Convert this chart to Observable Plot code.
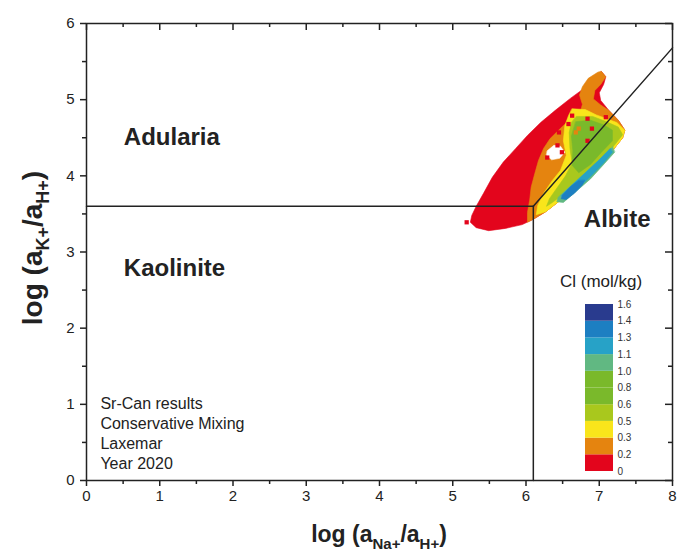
<!DOCTYPE html>
<html>
<head>
<meta charset="utf-8">
<script src="https://cdn.jsdelivr.net/npm/d3@7"></script>
<script src="https://cdn.jsdelivr.net/npm/@observablehq/plot@0.6"></script>
<style>
  html, body { margin: 0; padding: 0; background: #fff; }
  #chart { position: relative; width: 677px; height: 552px; font-family: "Liberation Sans", Arial, Helvetica, sans-serif; }
  #legend { position: absolute; left: 585px; top: 300px; }
  #legend-title { position: absolute; left: 560px; top: 272px; font-size: 17px; line-height: 20px; color: #222; white-space: nowrap; }
</style>
</head>
<body>
<div id="chart">
  <div id="legend-title">Cl (mol/kg)</div>
  <div id="legend"></div>
</div>
<script>
// Axis ticks
const xTicks = [0, 1, 2, 3, 4, 5, 6, 7, 8];
const xMinor = [0.5, 1.5, 2.5, 3.5, 4.5, 5.5, 6.5, 7.5];
const yTicks = [0, 1, 2, 3, 4, 5, 6];
const yMinor = [0.5, 1.5, 2.5, 3.5, 4.5, 5.5];

// Chloride classes (mol/kg) and their colours, lowest first
const clBreaks = ["0", "0.2", "0.3", "0.5", "0.6", "0.8", "1.0", "1.1", "1.3", "1.4", "1.6"];
const clColors = ["#e3051c", "#e5840f", "#f9e51b", "#a9c81d", "#7ab92b", "#7ab92b", "#61b882", "#27a2c7", "#1d7fc2", "#293b8e"];

// Stability-field boundaries [log(aNa+/aH+), log(aK+/aH+)]
const kaoliniteAdularia = [[0, 3.6], [6.1, 3.6]];
const kaoliniteAlbite = [[6.1, 0], [6.1, 3.6]];
const adulariaAlbite = [[6.1, 3.6], [8, 5.68]];

// Mixed-water samples, outlined by chloride class (each zone drawn over the previous)
const zoneCl0 = [[7.03,5.37],[7.09,5.30],[7.06,5.20],[7.00,5.09],[7.02,4.99],[7.13,4.86],[7.26,4.73],[7.35,4.60],[7.32,4.50],[7.18,4.33],[7.02,4.15],[6.74,3.90],[6.47,3.68],[6.27,3.53],[6.10,3.43],[5.95,3.36],[5.72,3.31],[5.49,3.28],[5.32,3.32],[5.24,3.39],[5.26,3.48],[5.32,3.60],[5.42,3.77],[5.54,3.98],[5.69,4.18],[5.86,4.36],[6.02,4.53],[6.20,4.70],[6.40,4.86],[6.61,5.02],[6.81,5.16],[6.94,5.28]];
const zoneCl02 = [[7.03,5.37],[7.09,5.30],[7.02,5.20],[6.94,5.12],[6.92,5.01],[7.02,4.93],[7.13,4.86],[7.26,4.73],[7.35,4.60],[7.32,4.50],[7.18,4.33],[7.02,4.15],[6.74,3.90],[6.47,3.68],[6.27,3.53],[6.10,3.43],[6.02,3.39],[6.02,3.52],[6.05,3.68],[6.07,3.85],[6.12,4.03],[6.17,4.20],[6.24,4.36],[6.33,4.49],[6.51,4.66],[6.74,4.83],[6.77,4.94],[6.73,5.06],[6.77,5.17],[6.85,5.28],[6.98,5.36]];
const zoneCl03 = [[6.63,4.88],[6.81,4.87],[6.96,4.80],[7.10,4.75],[7.24,4.70],[7.35,4.60],[7.32,4.50],[7.18,4.33],[7.02,4.15],[6.74,3.90],[6.47,3.68],[6.27,3.53],[6.14,3.49],[6.16,3.61],[6.24,3.77],[6.36,3.94],[6.47,4.07],[6.55,4.27],[6.51,4.46],[6.53,4.66],[6.58,4.79]];
const zoneCl05 = [[6.69,4.78],[6.91,4.78],[7.10,4.71],[7.26,4.64],[7.32,4.54],[7.18,4.37],[6.99,4.18],[6.74,3.95],[6.54,3.78],[6.36,3.65],[6.28,3.60],[6.32,3.70],[6.43,3.85],[6.54,4.00],[6.63,4.17],[6.60,4.36],[6.59,4.57],[6.62,4.70]];
const zoneCl06 = [[6.68,4.71],[6.88,4.73],[7.06,4.67],[7.18,4.60],[7.18,4.46],[7.03,4.31],[6.88,4.15],[6.72,4.04],[6.63,4.14],[6.64,4.33],[6.62,4.52]];
const zoneCl10 = [[7.18,4.38],[7.02,4.23],[6.81,4.04],[6.61,3.87],[6.44,3.72],[6.42,3.66],[6.51,3.65],[6.69,3.80],[6.88,3.96],[7.07,4.16],[7.21,4.31]];
const zoneCl11 = [[7.15,4.36],[6.99,4.20],[6.81,4.04],[6.63,3.88],[6.48,3.74],[6.53,3.69],[6.69,3.82],[6.88,3.99],[7.06,4.17],[7.18,4.31]];
const zoneCl13 = [[6.72,3.94],[6.61,3.86],[6.50,3.75],[6.48,3.70],[6.55,3.69],[6.66,3.77],[6.77,3.88],[6.80,3.94]];
const noSamples = [[6.29,4.33],[6.38,4.40],[6.47,4.39],[6.53,4.31],[6.46,4.23],[6.35,4.21],[6.28,4.27]];

// Isolated samples
const freshSpots = [[6.63,4.79],[6.84,4.75],[6.58,4.68],[6.45,4.57],[6.84,4.46],[6.49,4.31],[6.43,4.40],[6.29,4.24],[6.90,4.62],[7.09,4.77],[5.19,3.39]];
const brackishSpots = [[6.72,4.62],[6.68,4.57]];

const regionNames = ["Adularia", "Kaolinite", "Albite"];
const noteLines = ["Sr-Can results", "Conservative Mixing", "Laxemar", "Year 2020"];

const zones = [zoneCl0, zoneCl02, zoneCl03, zoneCl05, zoneCl06, zoneCl10, zoneCl11, zoneCl13];
const zoneClass = [0, 1, 2, 3, 4, 6, 7, 8];

const font = '"Liberation Sans", Arial, Helvetica, sans-serif';
const ink = "#222";

// plot frame in pixels
const W = 677, H = 552, mL = 86, mR = 5, mT = 23, mB = 72;
const innerW = W - mL - mR, innerH = H - mT - mB;

const zoneMarks = zones.map((z, k) => Plot.line(z, {
  x: d => d[0], y: d => d[1], curve: "linear-closed",
  fill: clColors[zoneClass[k]], stroke: clColors[zoneClass[k]], strokeWidth: 0.6
}));

const boundary = pts => Plot.line(pts, {x: d => d[0], y: d => d[1], stroke: ink, strokeWidth: 1.5});

const chart = Plot.plot({
  width: W,
  height: H,
  marginLeft: mL,
  marginRight: mR,
  marginTop: mT,
  marginBottom: mB,
  style: {fontFamily: font, fontSize: "15px", color: ink, background: "#fff"},
  x: {domain: [0, 8], label: null},
  y: {domain: [0, 6], label: null},
  marks: [
    ...zoneMarks,
    Plot.line(noSamples, {x: d => d[0], y: d => d[1], curve: "linear-closed", fill: "#fff", stroke: "#fff", strokeWidth: 0.5}),
    Plot.dot(freshSpots, {x: d => d[0], y: d => d[1], symbol: "square", r: 2.4, fill: clColors[0], stroke: null}),
    Plot.dot(brackishSpots, {x: d => d[0], y: d => d[1], symbol: "square", r: 2.4, fill: clColors[1], stroke: null}),
    boundary(kaoliniteAdularia),
    boundary(kaoliniteAlbite),
    boundary(adulariaAlbite),
    Plot.text([regionNames[0]], {x: 0.51, y: 4.51, textAnchor: "start", fontSize: 24, fontWeight: "bold", fill: ink}),
    Plot.text([regionNames[1]], {x: 0.51, y: 2.78, textAnchor: "start", fontSize: 24, fontWeight: "bold", fill: ink}),
    Plot.text([regionNames[2]], {x: 6.79, y: 3.43, textAnchor: "start", fontSize: 24, fontWeight: "bold", fill: ink}),
    Plot.text([noteLines.join("\n")], {x: 0.19, y: 0.63, textAnchor: "start", lineAnchor: "middle", lineHeight: 1.25, fontSize: 16, fill: ink}),
    Plot.frame({stroke: ink, strokeWidth: 1.5}),
    // outward ticks with labels on bottom and left
    Plot.axisX(xTicks, {tickSize: 6, tickPadding: 4, strokeWidth: 1.5, label: null, fontSize: 15, tickFormat: "d"}),
    Plot.axisX(xMinor, {tickSize: 4, text: null, strokeWidth: 1.5, label: null}),
    Plot.axisY(yTicks, {tickSize: 6, tickPadding: 6, strokeWidth: 1.5, label: null, fontSize: 15, tickFormat: "d"}),
    Plot.axisY(yMinor, {tickSize: 4, text: null, strokeWidth: 1.5, label: null}),
    // inward ticks along the top and right edges of the frame
    Plot.ruleX(xTicks, {x: d => d, insetBottom: innerH - 7, stroke: ink, strokeWidth: 1.5}),
    Plot.ruleX(xMinor, {x: d => d, insetBottom: innerH - 4, stroke: ink, strokeWidth: 1.5}),
    Plot.ruleY(yTicks, {y: d => d, insetLeft: innerW - 7, stroke: ink, strokeWidth: 1.5}),
    Plot.ruleY(yMinor, {y: d => d, insetLeft: innerW - 4, stroke: ink, strokeWidth: 1.5})
  ]
});

// Axis titles with subscripted ion names
function addTitle(parent, parts, size, subSize, shift) {
  const t = parent.append("text")
    .attr("font-family", font).attr("font-weight", "bold")
    .attr("font-size", size).attr("fill", ink).attr("text-anchor", "middle");
  let down = false;
  parts.forEach(([txt, sub]) => {
    const s = t.append("tspan").text(txt);
    if (sub && !down) { s.attr("dy", shift).attr("font-size", subSize); down = true; }
    else if (!sub && down) { s.attr("dy", -shift); down = false; }
    else if (sub) s.attr("font-size", subSize);
  });
  return t;
}
const svg = d3.select(chart);
const xTitle = svg.append("g").attr("transform", "translate(379,542)");
addTitle(xTitle, [["log (a"], ["Na+", true], ["/a"], ["H+", true], [")"]], 23, 15, 7);
const yTitle = svg.append("g").attr("transform", "translate(42,248) rotate(-90)");
addTitle(yTitle, [["log (a"], ["K+", true], ["/a"], ["H+", true], [")"]], 28, 18, 7);

document.getElementById("chart").appendChild(chart);

// Chloride colour bar
const legendBands = clColors.map((c, i) => ({lo: i, hi: i + 1, color: c}));
const legend = Plot.plot({
  width: 60,
  height: 185,
  marginLeft: 0,
  marginRight: 32,
  marginTop: 4,
  marginBottom: 14,
  style: {fontFamily: font, fontSize: "10px", color: "#333", background: "transparent", overflow: "visible"},
  x: {domain: [0, 1], axis: null},
  y: {domain: [0, clColors.length], axis: null},
  color: {type: "identity"},
  marks: [
    Plot.rect(legendBands, {x1: 0, x2: 1, y1: "lo", y2: "hi", fill: "color"}),
    Plot.axisY(d3.range(clBreaks.length), {anchor: "right", tickSize: 0, tickPadding: 4, tickFormat: i => clBreaks[i], label: null})
  ]
});
document.getElementById("legend").appendChild(legend);
</script>
</body>
</html>
